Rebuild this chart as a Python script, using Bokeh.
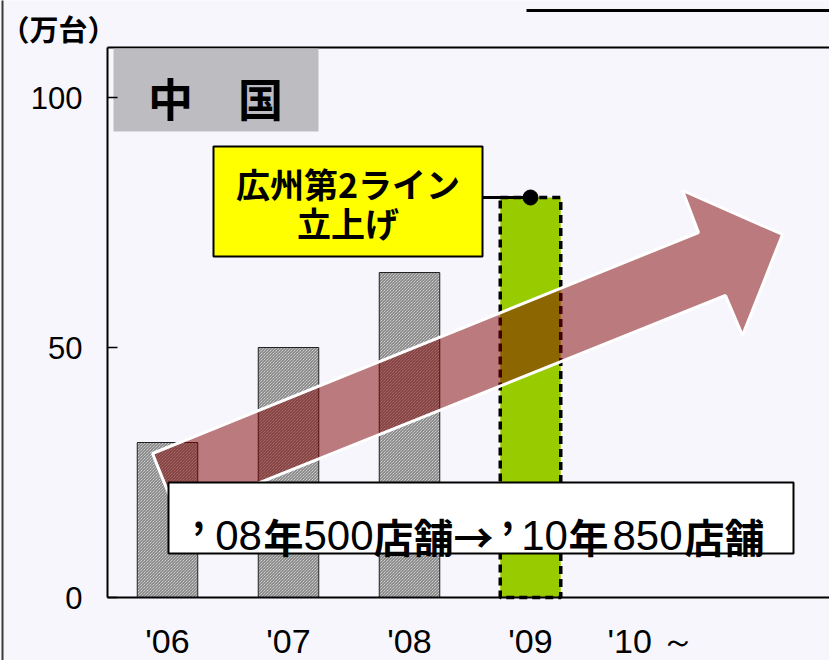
from bokeh.plotting import figure
from bokeh.models import Range1d, FixedTicker, Label, BoxAnnotation
from bokeh.embed import file_html
from bokeh.resources import INLINE

# ---- data ----
years = ["'06", "'07", "'08", "'09", "'10 ～"]
year_pos = [0, 1, 2, 3, 4]
past_years = [0, 1, 2]
past_values = [31, 50, 65]
plan_years = [3]
plan_values = [80]
y_ticks = [0, 50, 100]
unit_label = "（万台）"
region_label = "中　国"
callout_lines = ["広州第2ライン", "立上げ"]
store_texts = ["’", "08", "年", "500", "店舗→", "’", "10", "年", "850", "店舗"]
store_bold = [True, False, True, False, True, True, False, True, False, True]
store_centers_px = [198, 238, 283, 338, 433, 507, 544, 588, 647, 724]

# ---- layout helpers (page pixel -> data) for annotations ----
def dx(px):
    return (px - 167) / 121.0

def dy(py):
    return (597 - py) / 5.0

BG = "#F6F6FC"
SANS = "Liberation Sans"
CJK = "Noto Sans CJK JP"

p = figure(width=829, height=660, output_backend="svg", toolbar_location=None,
           x_range=Range1d(dx(0), dx(829)), y_range=Range1d(dy(660), dy(0)),
           min_border_left=0, min_border_right=0, min_border_top=0, min_border_bottom=0)
p.background_fill_color = BG
p.border_fill_color = BG
p.outline_line_color = None
p.xgrid.visible = False
p.ygrid.visible = False

# y axis at the frame's left edge
p.yaxis.fixed_location = dx(107)
p.yaxis.bounds = (0, 110)
p.yaxis.ticker = FixedTicker(ticks=y_ticks)
p.yaxis.major_tick_in = 10
p.yaxis.major_tick_out = 0
p.yaxis.minor_tick_line_color = None
p.yaxis.axis_line_width = 2
p.yaxis.axis_line_color = "black"
p.yaxis.major_tick_line_color = "black"
p.yaxis.major_tick_line_width = 1.5
p.yaxis.major_label_standoff = 25
p.yaxis.major_label_text_font = SANS
p.yaxis.major_label_text_font_size = "31px"
p.yaxis.major_label_text_color = "black"

# x axis at y = 0
p.xaxis.fixed_location = 0
p.xaxis.bounds = (dx(107), dx(829))
p.xaxis.ticker = FixedTicker(ticks=year_pos)
p.xaxis.major_label_overrides = {i: t for i, t in zip(year_pos, years)}
p.xaxis.major_tick_line_color = None
p.xaxis.major_tick_in = 0
p.xaxis.major_tick_out = 0
p.xaxis.minor_tick_line_color = None
p.xaxis.axis_line_width = 2
p.xaxis.axis_line_color = "black"
p.xaxis.major_label_standoff = 24
p.xaxis.major_label_text_font = SANS
p.xaxis.major_label_text_font_size = "34px"
p.xaxis.major_label_text_color = "black"

# frame top line
p.segment(x0=[dx(107)], y0=[110], x1=[dx(829)], y1=[110], line_color="black", line_width=2)

# bars
p.vbar(x=past_years, top=past_values, width=0.5, fill_color="#F2F2F2",
       line_color="#222222", line_width=1,
       hatch_pattern="\\", hatch_color="#6A6A6A", hatch_scale=3, hatch_weight=1)
p.vbar(x=plan_years, top=plan_values, width=0.5, fill_color="#99CC00",
       line_color="black", line_width=3.5, line_dash="8 5")

# big arrow
arrow_x = [dx(152), dx(698), dx(682), dx(782), dx(742), dx(725), dx(177)]
arrow_y = [dy(453), dy(232), dy(190), dy(234), dy(335), dy(295), dy(515)]
p.patch(arrow_x, arrow_y, fill_color="#800000", fill_alpha=0.5,
        line_color="white", line_width=3)

# connector from callout to '09 bar top
p.line([dx(482), plan_years[0]], [plan_values[0], plan_values[0]], line_color="black", line_width=3)
p.scatter(x=plan_years, y=plan_values, size=15, color="black")

# page left border and title underline
p.add_layout(BoxAnnotation(left=dx(1), right=dx(3), bottom=dy(665), top=dy(-5),
                           fill_color="#3A3A3A", fill_alpha=1, line_alpha=0))
p.add_layout(BoxAnnotation(left=dx(526), right=dx(835), bottom=dy(11.5), top=dy(8.5),
                           fill_color="black", fill_alpha=1, line_alpha=0))

# boxes (region, callout, store) as quads
p.quad(left=[dx(113)], right=[dx(318)], top=[dy(48)], bottom=[dy(131)],
       fill_color="#BDBDC1", line_color=None)
p.quad(left=[dx(213)], right=[dx(482)], top=[dy(146)], bottom=[dy(256)],
       fill_color="#FFFF00", line_color="black", line_width=2)
p.quad(left=[dx(168)], right=[dx(793)], top=[dy(482)], bottom=[dy(553)],
       fill_color="white", line_color="black", line_width=2)

# unit label
p.add_layout(Label(x=dx(58), y=dy(27), text=unit_label, text_align="center",
                   text_baseline="middle", text_font=CJK, text_font_style="bold",
                   text_font_size="29px", text_color="black"))

# region label
p.add_layout(Label(x=dx(215), y=dy(97), text=region_label, text_align="center",
                   text_baseline="middle", text_font=CJK, text_font_style="bold",
                   text_font_size="45px", text_color="black"))

# callout text
for line, ypx in zip(callout_lines, [183, 222]):
    p.add_layout(Label(x=dx(347.5), y=dy(ypx), text=line, text_align="center",
                       text_baseline="middle", text_font=CJK, text_font_style="bold",
                       text_font_size="34px", text_color="black"))

# store text
for t, b, cpx in zip(store_texts, store_bold, store_centers_px):
    if b:
        p.add_layout(Label(x=dx(cpx), y=dy(535), text=t, text_align="center",
                           text_baseline="alphabetic", text_font=CJK, text_font_style="bold",
                           text_font_size="40px", text_color="black"))
    else:
        p.add_layout(Label(x=dx(cpx), y=dy(535), text=t, text_align="center",
                           text_baseline="alphabetic", text_font=SANS,
                           text_font_size="42px", text_color="black"))

open("out.html", "w").write(file_html(p, INLINE))
